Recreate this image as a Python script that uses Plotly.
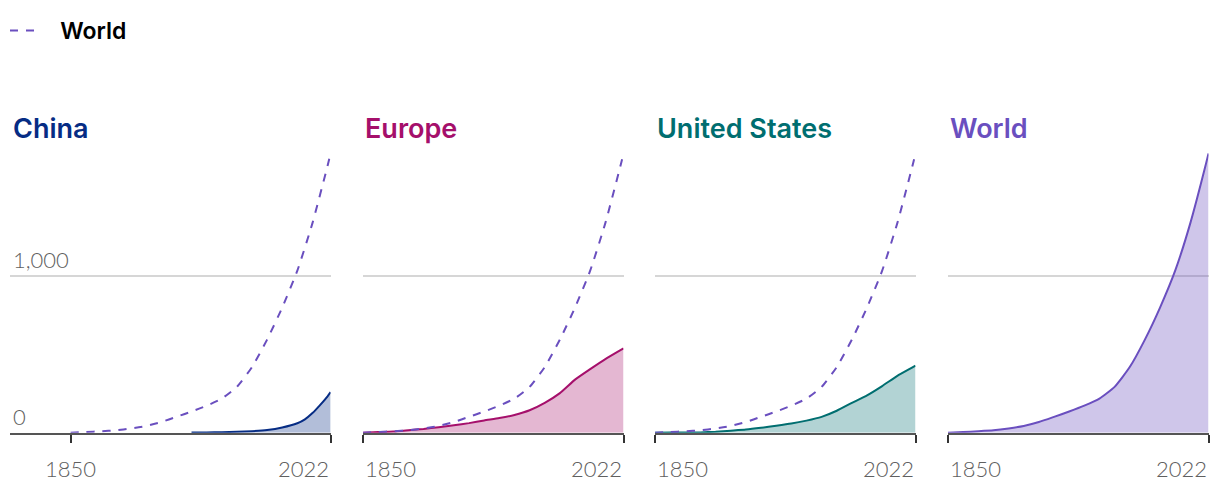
import plotly.graph_objects as go
from plotly.subplots import make_subplots

# ---- data (cumulative CO2, billion tonnes) ----
years = [1850, 1860, 1870, 1880, 1890, 1900, 1910, 1920, 1930, 1940,
         1950, 1960, 1970, 1980, 1990, 2000, 2010, 2020, 2022]
world = [0, 4, 9, 15, 27, 43, 68, 101, 135, 172,
         217, 292, 418, 593, 797, 1032, 1335, 1700, 1779]
europe = [0, 4, 8, 16, 24, 35, 47, 61, 78, 93,
          113, 143, 190, 252, 338, 405, 469, 526, 537]
us = [0, 0.5, 1, 2, 6, 13, 20, 31, 44, 58,
      77, 101, 140, 190, 238, 297, 362, 416, 427]
china_years = [1930, 1940, 1950, 1960, 1970, 1980, 1990, 2000, 2005, 2010, 2015, 2020, 2022]
china = [0.5, 1.5, 3, 6, 10, 17, 33, 60, 85, 125, 176, 232, 258]

panels = ["China", "Europe", "United States", "World"]
legend_name = "World"
tick_years = [1850, 2022]
y_ticks = [0, 1000]
y_tick_text = ["0", "1,000"]

line_colors = ["#062c84", "#a50f6b", "#006e70", "#6a4fbf"]
fill_colors = ["rgba(6,44,132,0.31)", "rgba(165,15,107,0.30)",
               "rgba(0,110,112,0.30)", "rgba(106,79,191,0.32)"]
world_dash_color = "#6a4fbf"

W, H = 1220, 490
FONT = "Lato"
TITLE_FONT = "Inter"

# panel pixel extents
dom_px = [(10, 330.6), (363, 623.5), (655, 915.5), (948, 1208.5)]
px_per_year = 260.0 / 172.0

fig = make_subplots(rows=1, cols=4)

series = [(china_years, china), (years, europe), (years, us), (years, world)]

for i in range(4):
    col = i + 1
    xs, ys = series[i]
    fig.add_trace(go.Scatter(
        x=xs, y=ys, mode="lines",
        line=dict(color=line_colors[i], width=2, shape="spline", smoothing=0.5),
        fill="tozeroy", fillcolor=fill_colors[i],
        showlegend=False, hoverinfo="skip"), row=1, col=col)
    if i < 3:
        fig.add_trace(go.Scatter(
            x=years, y=world, mode="lines",
            name="\u2002\u2009" + legend_name,
            line=dict(color=world_dash_color, width=2, dash="8px,8px",
                      shape="spline", smoothing=0.5),
            showlegend=(i == 0), hoverinfo="skip"), row=1, col=col)

ybot_px, ytop_px = 432.7, 432.7 - 0.157 * 1800
ydom = [(H - ybot_px) / H, (H - ytop_px) / H]

annotations = []
for i in range(4):
    col = i + 1
    x0, x1 = dom_px[i]
    xr = [1850, 2022] if i > 0 else [2022 - (x1 - x0) / px_per_year, 2022]
    fig.update_xaxes(
        domain=[x0 / W, x1 / W], range=xr,
        showgrid=False, zeroline=False,
        showline=True, linecolor="#555555", linewidth=2,
        ticks="outside", ticklen=8, tickwidth=2, tickcolor="#333333",
        tickvals=tick_years, showticklabels=False,
        row=1, col=col)
    fig.update_yaxes(
        domain=ydom, range=[0, 1800],
        tickvals=y_ticks, ticktext=y_tick_text,
        showgrid=True, gridcolor="#d6d6d6", gridwidth=1.5,
        zeroline=False, showline=False, ticks="",
        showticklabels=(i == 0),
        ticklabelposition="inside top",
        tickfont=dict(family=FONT, size=22, color="#606060", weight=300),
        row=1, col=col)
    xname = "x" if col == 1 else f"x{col}"
    yname = "y" if col == 1 else f"y{col}"
    # panel title
    annotations.append(dict(
        text=panels[i], xref=f"{xname} domain", yref="paper",
        x=(1 / (x1 - x0)) if i == 0 else 0, y=(H - 128) / H,
        xanchor="left", yanchor="middle", showarrow=False,
        font=dict(family=TITLE_FONT, size=27, color=line_colors[i], weight=600)))
    # x tick labels
    for ty in tick_years:
        if ty == 2022:
            xa = "right"
        else:
            xa = "center" if i == 0 else "left"
        annotations.append(dict(
            text=str(ty), xref=xname, yref=yname, x=ty, y=0,
            xanchor=xa, yanchor="top", yshift=-20, showarrow=False,
            font=dict(family=FONT, size=22, color="#606060", weight=300)))

fig.update_layout(
    width=W, height=H,
    margin=dict(l=0, r=0, t=0, b=0),
    paper_bgcolor="white", plot_bgcolor="white",
    annotations=annotations,
    showlegend=True,
    legend=dict(x=5 / W, y=1 - 9 / H, xanchor="left", yanchor="top",
                orientation="h", bgcolor="rgba(0,0,0,0)",
                font=dict(family=TITLE_FONT, size=23, color="#000000", weight=600),
                itemwidth=30),
)

fig.write_html("out.html", config={"displayModeBar": False},
               post_script="document.body.style.margin='0px';document.body.style.padding='0px';")
